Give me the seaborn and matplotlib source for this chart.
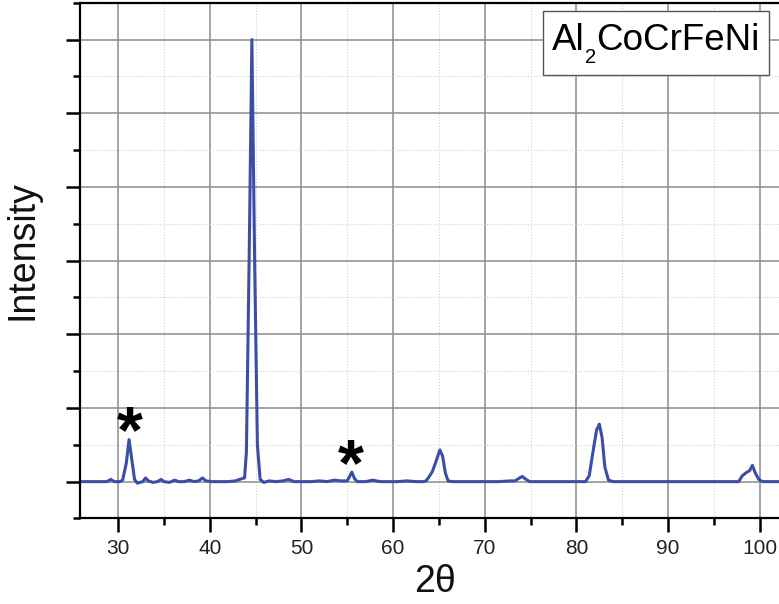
import numpy as np
import pandas as pd
import matplotlib
matplotlib.use("Agg")
import matplotlib.pyplot as plt
import seaborn as sns
from matplotlib.ticker import MultipleLocator
from matplotlib.patches import Rectangle

# ---- data (2theta in degrees, intensity in arbitrary units) ----
two_theta = [26.0, 27.5, 28.8, 29.2, 29.6, 30.2, 30.5, 30.9, 31.2, 31.5, 31.8, 32.1,
             32.7, 33.0, 33.3, 33.8, 34.3, 34.7, 35.0, 35.6, 36.2, 36.6, 37.2, 37.8,
             38.3, 38.8, 39.2, 39.6, 40.2, 41.0, 42.0, 42.8, 43.5, 43.8, 44.0, 44.3,
             44.6, 44.9, 45.2, 45.5, 45.9, 46.5, 47.2, 48.0, 48.6, 49.2, 50.0, 51.0,
             52.0, 52.8, 53.6, 54.3, 55.0, 55.3, 55.5, 55.8, 56.1, 57.0, 57.8, 58.6,
             59.5, 60.5, 61.5, 62.5, 63.3, 63.6, 63.9, 64.3, 64.7, 65.1, 65.4, 65.7,
             66.0, 66.5, 67.5, 68.5, 70.0, 71.5, 72.8, 73.3, 73.8, 74.1, 74.5, 74.9,
             75.6, 77.0, 78.5, 80.0, 81.0, 81.4, 81.8, 82.2, 82.5, 82.8, 83.1, 83.5,
             84.0, 85.0, 86.5, 88.0, 89.5, 91.0, 92.5, 94.0, 95.5, 97.0, 97.7, 98.1,
             98.5, 98.9, 99.2, 99.5, 99.9, 100.3, 101.0, 102.0, 103.3]
intensity = [0.00, 0.00, 0.00, 0.03, 0.00, 0.00, 0.02, 0.25, 0.57, 0.30, 0.03, -0.02,
             0.00, 0.05, 0.01, -0.01, 0.00, 0.03, 0.00, -0.01, 0.02, 0.00, 0.00, 0.02,
             0.00, 0.01, 0.05, 0.01, 0.00, 0.00, 0.00, 0.01, 0.04, 0.05, 0.40, 3.00,
             6.00, 3.00, 0.50, 0.03, -0.01, 0.01, 0.00, 0.01, 0.03, 0.00, 0.00, 0.00,
             0.01, 0.00, 0.02, 0.01, 0.01, 0.08, 0.13, 0.04, 0.00, 0.00, 0.02, 0.00,
             0.00, 0.00, 0.01, 0.00, 0.00, 0.01, 0.06, 0.14, 0.28, 0.43, 0.35, 0.12,
             0.01, 0.00, 0.00, 0.00, 0.00, 0.00, 0.01, 0.01, 0.05, 0.07, 0.03, 0.00,
             0.00, 0.00, 0.00, 0.00, 0.00, 0.08, 0.40, 0.70, 0.78, 0.60, 0.20, 0.02,
             0.00, 0.00, 0.00, 0.00, 0.00, 0.00, 0.00, 0.00, 0.00, 0.00, 0.00, 0.08,
             0.12, 0.15, 0.22, 0.12, 0.03, 0.00, 0.00, 0.00, 0.00]

# marked (*) reflections: position and level of the mark
star_theta = [31.3, 55.4]
star_level = [0.80, 0.35]

sample_main = "Al"
sample_sub = "2"
sample_rest = "CoCrFeNi"
x_label = "2θ"
y_label = "Intensity"
x_ticks = [30, 40, 50, 60, 70, 80, 90, 100]

df = pd.DataFrame({"two_theta": two_theta, "intensity": intensity})

sns.set_style("white")
plt.rcParams["font.family"] = ["Liberation Sans", "DejaVu Sans"]

W, H = 779, 604
fig = plt.figure(figsize=(W / 100, H / 100), dpi=100)
ax = fig.add_axes([80 / W, 0.1416, 710 / W, 0.8539])

sns.lineplot(data=df, x="two_theta", y="intensity", ax=ax, color="#3a4ea6",
             linewidth=2.2, estimator=None, sort=False)

ax.set_xlim(25.85, 103.3)
ax.set_ylim(-0.5, 6.5)
ax.xaxis.set_major_locator(plt.FixedLocator(x_ticks))
ax.xaxis.set_minor_locator(MultipleLocator(5))
ax.yaxis.set_major_locator(MultipleLocator(1))
ax.yaxis.set_minor_locator(MultipleLocator(0.5))
ax.set_yticklabels([])

ax.grid(True, which="major", color="#8c8c8c", linewidth=1.1, linestyle="-")
ax.grid(True, which="minor", color="#d0d0d0", linewidth=0.8, linestyle=":")
ax.set_axisbelow(True)

for side in ["left", "bottom", "top"]:
    ax.spines[side].set_color("black")
    ax.spines[side].set_linewidth(1.6)
ax.spines["right"].set_visible(False)

ax.tick_params(axis="both", which="major", direction="out", length=10, width=1.8,
               color="black", labelsize=15, labelcolor="#222222", pad=5,
               left=True, bottom=True)
ax.tick_params(axis="both", which="minor", direction="out", length=5, width=1.8,
               color="black", left=True, bottom=True)

ax.set_xlabel(x_label, fontsize=27, labelpad=4, color="#111111")
ax.set_ylabel(y_label, fontsize=27, color="#111111")
ax.yaxis.set_label_coords(-0.056, 0.52)

# asterisk marks: glyph sits high in its text box, so anchor a little below the mark
star_size = 48
star_off = 12 / 74
for xs, ys in zip(star_theta, star_level):
    ax.text(xs, ys - star_off, "*", fontsize=star_size, fontweight="bold", ha="center",
            va="center", color="black")

# sample label box (drawn in figure coordinates, above the plot)
ax.add_patch(Rectangle((543 / W, 1 - 75 / H), 226 / W, 64 / H,
                       transform=fig.transFigure, facecolor="white",
                       edgecolor="#555555", linewidth=1.0, zorder=5, clip_on=False))
t1 = ax.text(552 / W, 1 - 50 / H, sample_main, fontsize=26.5, ha="left",
             va="baseline", color="black", zorder=6, transform=fig.transFigure,
             clip_on=False)
t2 = ax.annotate(sample_sub, xy=(1, 0.28), xycoords=t1, fontsize=14.5, ha="left",
                 va="top", color="black", annotation_clip=False, zorder=6)
t3 = ax.annotate(sample_rest, xy=(1, 0), xycoords=(t2, t1), fontsize=26.5, ha="left",
                 va="bottom", color="black", annotation_clip=False, zorder=6)

fig.savefig("out.png", dpi=100)
